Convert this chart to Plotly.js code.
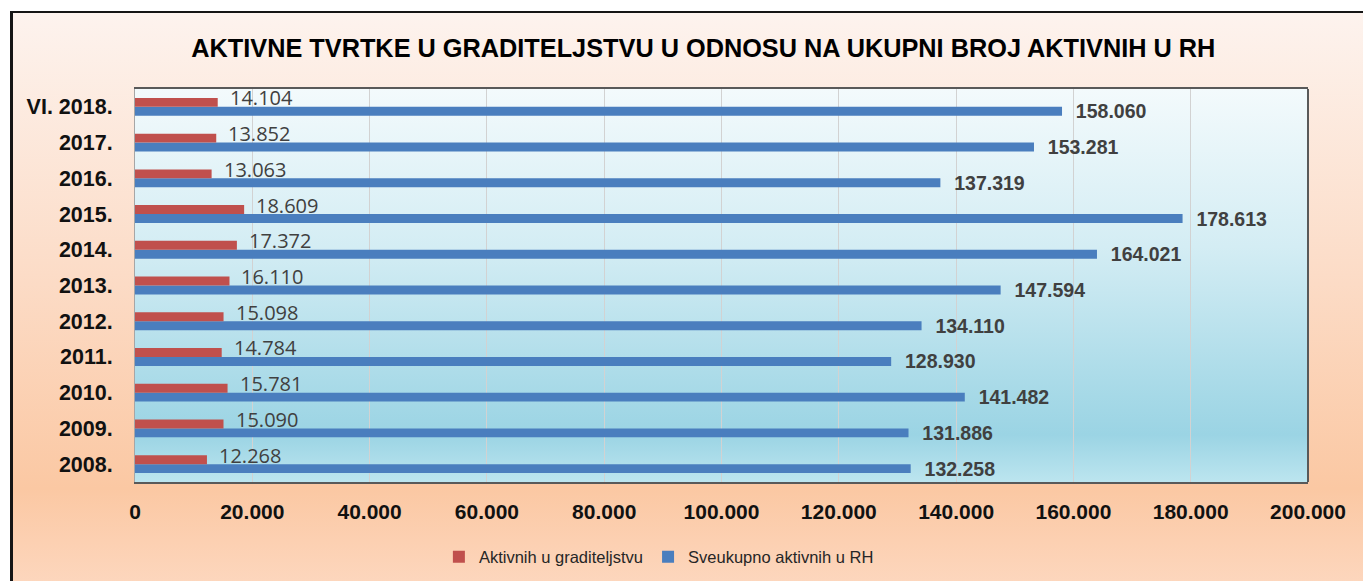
<!DOCTYPE html>
<html>
<head>
<meta charset="utf-8">
<script src="https://cdn.plot.ly/plotly-3.0.1.min.js"></script>
<style>
  html, body { margin:0; padding:0; background:#ffffff; width:1363px; height:581px; overflow:hidden; }
  #frame { position:absolute; left:10px; top:11px; width:1363px; height:580px;
    border-left:3px solid #151515; border-top:2px solid #151515;
    background: linear-gradient(to bottom, #fdf3ee 0%, #fcdcc7 45%, #fbc8a3 82%, #fdd8c0 100%); }
  #plotbg { position:absolute; left:135px; top:89px; width:1173px; height:393px;
    background: linear-gradient(to bottom, #f3fafc 0%, #d4edf4 40%, #a6d9e7 78%, #9bd4e4 88%, #bce5ef 100%); }
  #chart { position:absolute; left:0; top:0; width:1363px; height:581px; }
</style>
</head>
<body>
<div id="frame"></div>
<div id="plotbg"></div>
<div id="chart"></div>
<script>
const categories = ['2008.','2009.','2010.','2011.','2012.','2013.','2014.','2015.','2016.','2017.','VI. 2018.'];
const graditeljstvo = [12268,15090,15781,14784,15098,16110,17372,18609,13063,13852,14104];
const ukupno = [132258,131886,141482,128930,134110,147594,164021,178613,137319,153281,158060];
const seriesNames = ['Aktivnih u graditeljstvu','Sveukupno aktivnih u RH'];
const xTicks = [0,20000,40000,60000,80000,100000,120000,140000,160000,180000,200000];

const NB = '\u00a0';
const fmt = v => String(v).replace(/\B(?=(\d{3})+(?!\d))/g, '.');

const traces = [
  {
    type:'bar', orientation:'h', name: seriesNames[1],
    y: categories, x: ukupno,
    marker:{color:'#4a7ebe'},
    texttemplate: NB+NB+'%{x:,.0f}', textposition:'outside', constraintext:'none', cliponaxis:false,
    textfont:{family:'Arial, Liberation Sans, sans-serif', size:19.5, color:'#404040', weight:'bold'},
    legendrank: 2, hoverinfo:'x'
  },
  {
    type:'bar', orientation:'h', name: seriesNames[0],
    y: categories, x: graditeljstvo,
    marker:{color:'#c0504d'},
    legendrank: 1, hoverinfo:'x'
  }
];

// red value labels: placed at each category index (category axis position)
const redLabels = categories.map((c, i) => ({
  x: graditeljstvo[i], y: i, xref:'x', yref:'y',
  text: fmt(graditeljstvo[i]), showarrow:false,
  xanchor:'left', yanchor:'middle', xshift:10, yshift:9,
  font:{family:'Open Sans, sans-serif', size:20, color:'#404040'}
}));

const layout = {
  width:1363, height:581, autosize:false,
  margin:{l:135, r:55, t:89, b:99, pad:0, autoexpand:false},
  paper_bgcolor:'rgba(0,0,0,0)', plot_bgcolor:'rgba(0,0,0,0)',
  separators: ',.',
  barmode:'group', bargap:0.5, bargroupgap:0,
  title:{text:'AKTIVNE TVRTKE U GRADITELJSTVU U ODNOSU NA UKUPNI BROJ AKTIVNIH U RH',
    x:0.516, xanchor:'center', y:0.917, yanchor:'middle',
    font:{family:'Arial, Liberation Sans, sans-serif', size:25.3, color:'#000', weight:'bold'}},
  xaxis:{range:[0,200000], tickvals:xTicks, tickformat:',.0f', showgrid:true, gridcolor:'#d2d2d2', gridwidth:1,
    zeroline:false, showline:true, mirror:true, linecolor:'#595959', linewidth:2, automargin:false,
    ticks:'', ticklabelstandoff:10,
    tickfont:{family:'Arial, Liberation Sans, sans-serif', size:21, color:'#111', weight:'bold'}, fixedrange:true},
  yaxis:{type:'category', categoryorder:'array', categoryarray:categories, range:[-0.5, categories.length-0.5],
    showgrid:false, zeroline:false,
    showline:true, linecolor:'#a6a6a6', linewidth:1, ticks:'', ticklabelstandoff:17, automargin:false,
    tickfont:{family:'Arial, Liberation Sans, sans-serif', size:21.5, color:'#111', weight:'bold'}, fixedrange:true},
  shapes:[{type:'line', xref:'paper', yref:'paper', x0:1, x1:1, y0:0, y1:1, line:{color:'#595959', width:2}}],
  annotations: redLabels,
  showlegend:true,
  legend:{orientation:'h', xref:'container', yref:'container', x:0.322, xanchor:'left', y:0.0413, yanchor:'middle',
    bgcolor:'rgba(0,0,0,0)', itemwidth:30,
    font:{family:'Arial, Liberation Sans, sans-serif', size:16.5, color:'#262626'}}
};

Plotly.newPlot('chart', traces, layout, {displayModeBar:false, staticPlot:true});
</script>
</body>
</html>
